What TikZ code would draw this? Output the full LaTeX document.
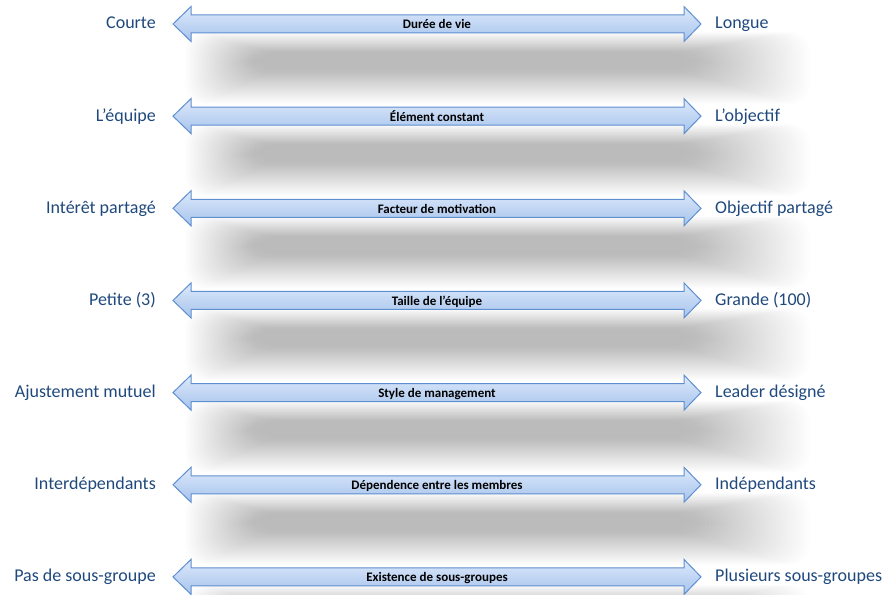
\documentclass[tikz,border=0pt]{standalone}
\usepackage{fontspec}
\setmainfont{Carlito}
\definecolor{lbl}{HTML}{1F497D}
\definecolor{arrline}{HTML}{5F8FCF}
\definecolor{arrtop}{HTML}{DDE9FB}
\definecolor{arrbot}{HTML}{A6C3EC}
\tikzset{
  sidelbl/.style={text=lbl, font=\fontsize{18}{20}\selectfont, inner sep=0pt},
  midlbl/.style={font=\fontsize{13}{15}\selectfont\bfseries, inner sep=0pt},
  arrowbody/.style={draw=arrline, line width=1pt, top color=arrtop, bottom color=arrbot, line join=miter},
  shadowlayer/.style={fill=black, opacity=0.006, rounded corners=20pt},
}
\begin{document}
\begin{tikzpicture}[x=1pt,y=-1pt]
\useasboundingbox (0,0) rectangle (890,594);
\foreach \i/\l/\m/\r in {
  0/Courte/Durée de vie/Longue,
  1/L’équipe/Élément constant/L’objectif,
  2/Intérêt partagé/Facteur de motivation/Objectif partagé,
  3/Petite (3)/Taille de l’équipe/Grande (100),
  4/Ajustement mutuel/Style de management/Leader désigné,
  5/Interdépendants/Dépendence entre les membres/Indépendants,
  6/Pas de sous-groupe/Existence de sous-groupes/Plusieurs sous-groupes} {
  \pgfmathsetmacro\yy{24+92.15*\i}
  \foreach \k in {0,...,35} {
    \fill[shadowlayer] (185+2*\k,\yy+8+0.6*\k) rectangle (810-3.4*\k,\yy+80-1.0*\k);
  }
  \draw[arrowbody] (173,\yy) -- (191,\yy-17.5) -- (191,\yy-9) -- (684,\yy-9)
     -- (684,\yy-17.5) -- (701,\yy) -- (684,\yy+17.5) -- (684,\yy+9)
     -- (191,\yy+9) -- (191,\yy+17.5) -- cycle;
  \node[midlbl, anchor=base] (m\i) at (437,\yy+5) {\m};
  \node[sidelbl, anchor=base east] (l\i) at (156,\yy+5) {\l};
  \node[sidelbl, anchor=base west] (r\i) at (715,\yy+5) {\r};
}
\end{tikzpicture}
\end{document}
